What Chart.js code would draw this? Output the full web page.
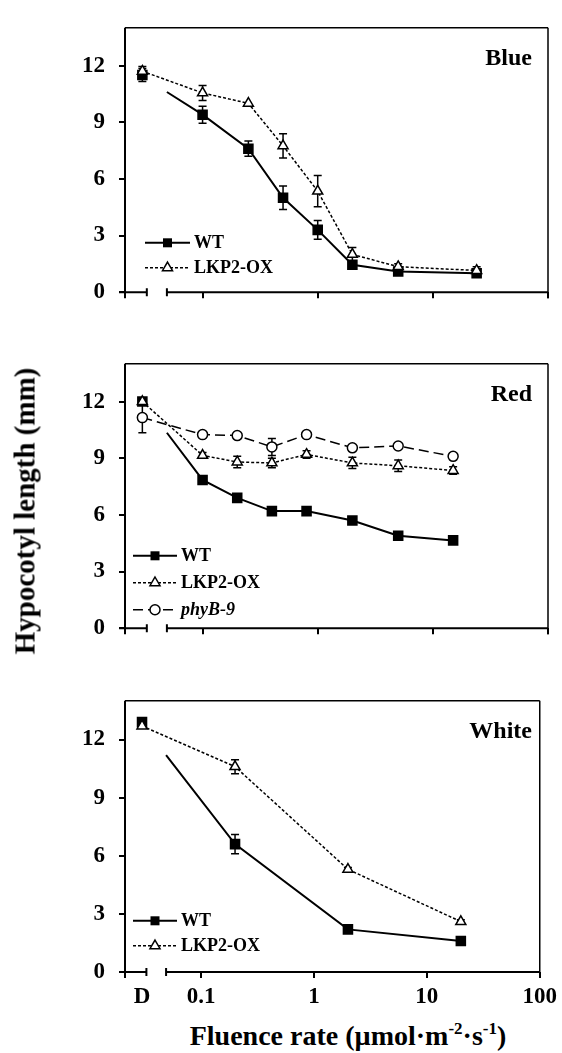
<!DOCTYPE html>
<html lang="en">
<head>
<meta charset="UTF-8">
<title>Hypocotyl length vs fluence rate</title>
<script src="https://cdn.jsdelivr.net/npm/chart.js"></script>
<style>
  body { margin: 0; background: #fff; }
  #page { position: relative; width: 562px; height: 1053px; font-family: "Liberation Serif", "Times New Roman", serif; color: #000; }
  canvas { position: absolute; left: 0; }
  #ytitle { position: absolute; left: 25px; top: 511px; transform: translate(-50%, -50%) rotate(-90deg);
            font-weight: bold; font-size: 29px; white-space: nowrap; }
  #xtitle { position: absolute; left: 348px; top: 1036px; transform: translate(-50%, -50%);
            font-weight: bold; font-size: 28px; white-space: nowrap; }
  #xtitle sup { font-size: 17px; vertical-align: 11px; line-height: 0; }
</style>
</head>
<body>
<div id="page">
  <canvas id="blueChart" width="562" height="320" style="top:0px"></canvas>
  <canvas id="redChart" width="562" height="320" style="top:336px"></canvas>
  <canvas id="whiteChart" width="562" height="345" style="top:673px"></canvas>
  <div id="ytitle">Hypocotyl length (mm)</div>
  <div id="xtitle">Fluence rate (&micro;mol&middot;m<sup>-2</sup>&middot;s<sup>-1</sup>)</div>
</div>

<script>
  // x position used for the dark (D) samples on the log axis
  const D_X = 0.03;
  const xTicks = [D_X, 0.1, 1, 10, 100];
  const yTicks = [0, 3, 6, 9, 12];

  // Blue light
  const blueX = [D_X, 0.1, 0.25, 0.5, 1, 2, 5, 24];
  const blueWT = [11.5, 9.4, 7.6, 5.0, 3.3, 1.45, 1.1, 1.0];
  const blueWTErr = [0.35, 0.45, 0.4, 0.62, 0.5, 0.15, 0.1, 0.1];
  const blueWTStart = 10.6;
  const blueLKP = [11.7, 10.55, 10.0, 7.75, 5.35, 2.0, 1.35, 1.15];
  const blueLKPErr = [0.25, 0.4, 0, 0.64, 0.83, 0.37, 0.15, 0.2];

  // Red light
  const redX = [D_X, 0.1, 0.2, 0.4, 0.8, 2, 5, 15];
  const redWT = [12.0, 7.85, 6.9, 6.2, 6.2, 5.7, 4.9, 4.65];
  const redWTErr = [0.1, 0.1, 0.15, 0.1, 0.1, 0.1, 0.1, 0.1];
  const redWTStart = 10.35;
  const redLKP = [12.0, 9.15, 8.8, 8.75, 9.2, 8.75, 8.6, 8.35];
  const redLKPErr = [0.1, 0.15, 0.3, 0.25, 0.2, 0.3, 0.3, 0.2];
  const redPhyB = [11.15, 10.25, 10.2, 9.6, 10.25, 9.55, 9.65, 9.1];
  const redPhyBErr = [0.8, 0.1, 0.1, 0.45, 0.1, 0.1, 0.1, 0.1];

  // White light
  const whiteX = [D_X, 0.2, 2, 20];
  const whiteWT = [12.9, 6.6, 2.2, 1.6];
  const whiteWTErr = [0.15, 0.5, 0.1, 0.1];
  const whiteWTStart = 11.2;
  const whiteLKP = [12.7, 10.6, 5.3, 2.6];
  const whiteLKPErr = [0.1, 0.36, 0.1, 0.1];

  // axis geometry
  const X_MIN = 0.0212, X_MAX = 100;
  const BREAK_L = 0.0328, BREAK_R = 0.049;

  const SERIF = '"Liberation Serif", "Times New Roman", serif';

  const looks = {
    'WT':      { pointStyle: 'rect',     radius: 6.4, fill: '#000', dash: [],     width: 2 },
    'LKP2-OX': { pointStyle: 'triangle', radius: 5.8, fill: '#fff', dash: [3, 2], width: 1.5 },
    'phyB-9':  { pointStyle: 'circle',   radius: 5,   fill: '#fff', dash: [10, 5], width: 1.5 }
  };

  // build points; when startY is given the D point stands alone and the curve begins at the axis break
  function points(xs, ys, errs, startY) {
    const pts = xs.map((x, i) => ({ x: x, y: ys[i], err: errs[i] }));
    if (startY === undefined) return pts;
    return [pts[0], { x: (BREAK_L + BREAK_R) / 2, y: null }, { x: BREAK_R, y: startY, noMark: true }]
      .concat(pts.slice(1));
  }

  function dataset(label, data, order) {
    const s = looks[label];
    return {
      label: label,
      data: data,
      order: order,
      borderColor: '#000',
      borderWidth: s.width,
      borderDash: s.dash,
      tension: 0,
      spanGaps: false,
      pointStyle: s.pointStyle,
      pointRadius: ctx => (ctx.raw && ctx.raw.noMark) ? 0 : s.radius,
      pointBackgroundColor: s.fill,
      pointBorderColor: '#000',
      pointBorderWidth: 1.5
    };
  }

  // error bars, drawn under the lines and markers
  const errorBars = {
    id: 'errorBars',
    beforeDatasetsDraw(chart) {
      const { ctx, scales: { x, y } } = chart;
      ctx.save();
      ctx.strokeStyle = '#000';
      ctx.lineWidth = 1.5;
      ctx.setLineDash([]);
      chart.data.datasets.forEach(ds => {
        ds.data.forEach(p => {
          if (p.y === null || !p.err) return;
          const px = x.getPixelForValue(p.x);
          const top = y.getPixelForValue(p.y + p.err);
          const bot = y.getPixelForValue(p.y - p.err);
          ctx.beginPath();
          ctx.moveTo(px, top); ctx.lineTo(px, bot);
          ctx.moveTo(px - 4, top); ctx.lineTo(px + 4, top);
          ctx.moveTo(px - 4, bot); ctx.lineTo(px + 4, bot);
          ctx.stroke();
        });
      });
      ctx.restore();
    }
  };

  // box frame with the broken x axis
  const frame = {
    id: 'frame',
    afterDraw(chart) {
      const { ctx, chartArea: a, scales: { x } } = chart;
      const bl = x.getPixelForValue(BREAK_L), br = x.getPixelForValue(BREAK_R);
      ctx.save();
      ctx.strokeStyle = '#000';
      ctx.setLineDash([]);
      ctx.lineWidth = 1.5;
      ctx.beginPath();
      ctx.moveTo(a.left, a.top); ctx.lineTo(a.right, a.top);
      ctx.moveTo(a.right, a.top); ctx.lineTo(a.right, a.bottom + 6);
      ctx.stroke();
      ctx.lineWidth = 2;
      ctx.beginPath();
      ctx.moveTo(a.left, a.top); ctx.lineTo(a.left, a.bottom + 6);
      ctx.moveTo(a.left - 6, a.bottom); ctx.lineTo(bl, a.bottom);
      ctx.moveTo(br, a.bottom); ctx.lineTo(a.right, a.bottom);
      ctx.moveTo(bl, a.bottom - 4); ctx.lineTo(bl, a.bottom + 4);
      ctx.moveTo(br, a.bottom - 4); ctx.lineTo(br, a.bottom + 4);
      ctx.stroke();
      ctx.restore();
    }
  };

  function drawMarker(ctx, style, x, y) {
    const s = looks[style];
    ctx.setLineDash([]);
    ctx.lineWidth = 1.5;
    ctx.beginPath();
    if (s.pointStyle === 'rect') {
      ctx.fillStyle = '#000';
      ctx.fillRect(x - 4.5, y - 4.5, 9, 9);
      return;
    }
    if (s.pointStyle === 'triangle') {
      const r = s.radius;
      ctx.moveTo(x, y - r);
      ctx.lineTo(x + r * 0.866, y + r / 2);
      ctx.lineTo(x - r * 0.866, y + r / 2);
      ctx.closePath();
    } else {
      ctx.arc(x, y, s.radius, 0, Math.PI * 2);
    }
    ctx.fillStyle = '#fff';
    ctx.fill();
    ctx.stroke();
  }

  // panel name and inset legend
  const panelText = {
    id: 'panelText',
    afterDraw(chart, args, opts) {
      const { ctx, chartArea: a } = chart;
      ctx.save();
      ctx.fillStyle = '#000';
      ctx.strokeStyle = '#000';
      ctx.font = 'bold 24px ' + SERIF;
      ctx.textAlign = 'right';
      ctx.textBaseline = 'middle';
      ctx.fillText(opts.title, 532, a.top + 31);

      ctx.textAlign = 'left';
      chart.data.datasets.forEach((ds, i) => {
        const s = looks[ds.label];
        const yy = a.top + opts.legendTop + i * opts.legendGap;
        ctx.lineWidth = s.width;
        ctx.setLineDash(s.dash);
        ctx.beginPath();
        ctx.moveTo(opts.legendX0, yy);
        ctx.lineTo(opts.legendX1, yy);
        ctx.stroke();
        drawMarker(ctx, ds.label, (opts.legendX0 + opts.legendX1) / 2, yy);
        ctx.font = (ds.label === 'phyB-9' ? 'italic bold 18px ' : 'bold 18px ') + SERIF;
        ctx.fillStyle = '#000';
        ctx.fillText(ds.label, opts.legendX1 + 4, yy + 1);
      });
      ctx.restore();
    }
  };

  function makeChart(id, datasets, panel) {
    return new Chart(document.getElementById(id), {
      type: 'line',
      data: { datasets: datasets },
      plugins: [errorBars, frame, panelText],
      options: {
        responsive: false,
        animation: false,
        devicePixelRatio: 1,
        layout: { padding: { top: 15, right: 14, left: 0, bottom: 0 } },
        plugins: {
          legend: { display: false },
          tooltip: { enabled: false },
          panelText: panel
        },
        scales: {
          x: {
            type: 'logarithmic',
            min: X_MIN,
            max: X_MAX,
            afterBuildTicks: s => { s.ticks = xTicks.map(v => ({ value: v })); },
            afterFit: s => { s.height = panel.xAxisHeight; },
            border: { display: false },
            grid: {
              drawOnChartArea: false,
              drawTicks: true,
              tickLength: 6,
              lineWidth: 2,
              tickColor: ctx => (ctx.tick && ctx.tick.value === D_X) ? 'rgba(0,0,0,0)' : '#000'
            },
            ticks: {
              autoSkip: false,
              maxRotation: 0,
              padding: 5,
              color: '#000',
              font: { family: SERIF, size: 23, weight: 'bold' },
              callback: v => panel.showXLabels ? (v === D_X ? 'D' : String(v)) : ''
            }
          },
          y: {
            min: 0,
            max: 14,
            afterBuildTicks: s => { s.ticks = yTicks.map(v => ({ value: v })); },
            afterFit: s => { s.width = 125; },
            border: { display: false },
            grid: { drawOnChartArea: false, tickLength: 6, lineWidth: 2, color: '#000' },
            ticks: {
              padding: 14,
              color: '#000',
              font: { family: SERIF, size: 23, weight: 'bold' }
            }
          }
        }
      }
    });
  }

  makeChart('blueChart', [
    dataset('WT', points(blueX, blueWT, blueWTErr, blueWTStart), 2),
    dataset('LKP2-OX', points(blueX, blueLKP, blueLKPErr), 1)
  ], { title: 'Blue', legendX0: 145, legendX1: 190, legendTop: 215, legendGap: 25, xAxisHeight: 23, showXLabels: false });

  makeChart('redChart', [
    dataset('WT', points(redX, redWT, redWTErr, redWTStart), 3),
    dataset('LKP2-OX', points(redX, redLKP, redLKPErr), 2),
    dataset('phyB-9', points(redX, redPhyB, redPhyBErr), 1)
  ], { title: 'Red', legendX0: 133, legendX1: 177, legendTop: 192, legendGap: 27, xAxisHeight: 23, showXLabels: false });

  makeChart('whiteChart', [
    dataset('WT', points(whiteX, whiteWT, whiteWTErr, whiteWTStart), 2),
    dataset('LKP2-OX', points(whiteX, whiteLKP, whiteLKPErr), 1)
  ], { title: 'White', legendX0: 133, legendX1: 177, legendTop: 220, legendGap: 25, xAxisHeight: 46, showXLabels: true });
</script>
</body>
</html>
